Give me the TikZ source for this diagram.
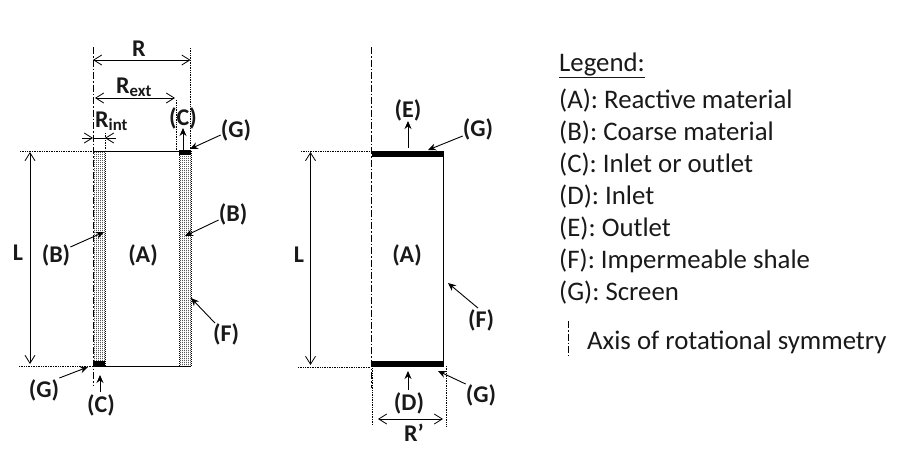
\documentclass[tikz,border=0pt]{standalone}
\usepackage{fontspec}
\setmainfont{Carlito}
\usetikzlibrary{arrows.meta,patterns}
\pgfdeclarepatternformonly{fdots}{\pgfqpoint{-0.5pt}{-0.5pt}}{\pgfqpoint{0.5pt}{0.5pt}}{\pgfqpoint{2pt}{2pt}}{%
  \pgfpathrectangle{\pgfqpoint{0pt}{0pt}}{\pgfqpoint{1.25pt}{1.25pt}}%
  \pgfpathrectangle{\pgfqpoint{1pt}{1pt}}{\pgfqpoint{1.25pt}{1.25pt}}%
  \pgfusepath{fill}}
\tikzset{
  lab/.style={font=\fontsize{24}{26}\selectfont\bfseries,inner sep=0pt,text=black!90},
  leg/.style={font=\fontsize{26.8}{30}\selectfont,inner sep=0pt,anchor=west,text=black!90},
  barb/.style={Straight Barb[length=8pt,width=10pt,angle'=50]},
  dim/.style={line width=0.8pt,{Straight Barb[length=8pt,width=10pt]}-{Straight Barb[length=8pt,width=10pt]}},
  tick/.style={line width=0.8pt,-{Straight Barb[length=8pt,width=10pt]}},
  arr/.style={line width=0.9pt,-{Stealth[length=8pt,width=7pt]}},
  ext/.style={line width=0.7pt,densely dotted},
  axisl/.style={line width=0.7pt,dash pattern=on 7pt off 2pt on 1.5pt off 2pt},
  wall/.style={line width=0.9pt},
  edgeline/.style={line width=0.6pt,dash pattern=on 1pt off 1pt},
  shale/.style={pattern=fdots,pattern color=black},
  screen/.style={fill=black,draw=none},
}
\begin{document}
\begin{tikzpicture}[x=1pt,y=-1pt]
\useasboundingbox (0,0) rectangle (901,453);
% left part
\fill[shale] (93,151) rectangle (105,366);
\fill[shale] (179,151) rectangle (191,366);
\draw[wall] (93,151) -- (191,151);
\draw[wall] (93,366) -- (191,366);
\draw[edgeline] (105,151) -- (105,366);
\draw[edgeline] (179,151) -- (179,366);
\draw[edgeline] (191,151) -- (191,366);
\fill[screen] (179,150) rectangle (191,155);
\fill[screen] (93,361) rectangle (105,367);
\coordinate (aTop) at (93,47); \coordinate (aBot) at (93,386);
\draw[axisl] (aTop) -- (aBot);
\coordinate (Lt) at (20,151); \coordinate (Lb) at (19,366);
\coordinate (Ltc) at (93,151); \coordinate (Lbc) at (93,366);
\draw[ext] (Lt) -- (Ltc); \draw[ext] (Lb) -- (Lbc);
\coordinate (L1a) at (30,152); \coordinate (L1b) at (30,364);
\draw[dim] (L1a) -- (L1b);
\node[lab] (L1) at (18,253) {L};
\coordinate (Rl) at (93,60); \coordinate (Rr) at (190.5,60);
\draw[dim] (Rl) -- (Rr);
\draw[ext] (190,48) -- (190,150);
\node[lab] (R) at (139,49) {R};
\coordinate (Rel) at (95,98); \coordinate (Rer) at (175,98);
\draw[dim] (Rel) -- (Rer);
\draw[ext] (176,100) -- (176,150);
\node[lab,anchor=base west] (Rext) at (116,93) {R\textsubscript{ext}};
\draw[ext] (105,133) -- (105,150);
\coordinate (Ril) at (82,138); \coordinate (Rim) at (93,138);
\coordinate (Rir) at (116,138); \coordinate (Rin) at (105,138);
\draw[tick] (Ril) -- (Rim);
\draw[tick] (Rir) -- (Rin);
\draw[line width=0.8pt] (Rim) -- (Rin);
\node[lab,anchor=base west] (Rint) at (95,127) {R\textsubscript{int}};
\node[lab] (Ctop) at (183,118) {(C)};
\coordinate (Ctip) at (183,128); \coordinate (Cs) at (183,150);
\draw[arr] (Cs) -- (Ctip);
\node[lab] (Gt) at (236,130) {(G)};
\coordinate (Gtip) at (190,149);
\draw[arr] (Gt.west) ++(0,5) -- (Gtip);
\node[lab] (B1) at (56,255) {(B)};
\coordinate (B1t) at (104,232);
\draw[arr] (B1.east) ++(0,-8) -- (B1t);
\node[lab] (A1) at (143,255) {(A)};
\node[lab] (B2) at (233,214) {(B)};
\coordinate (B2t) at (185,236);
\draw[arr] (B2.west) ++(0,6) -- (B2t);
\node[lab] (F1) at (226,334) {(F)};
\coordinate (F1t) at (191,298);
\draw[arr] (F1.north) ++(-11,0) -- (F1t);
\node[lab] (Gb) at (44,390) {(G)};
\coordinate (Gbt) at (88,367);
\draw[arr] (Gb.east) ++(0,-12) -- (Gbt);
\node[lab] (Cb) at (101,405) {(C)};
\coordinate (Cbt) at (100,375);
\draw[arr] (100,392) -- (Cbt);
% right part
\draw[wall] (372,151) -- (443,151) -- (443,366) -- (372,366);
\fill[screen] (372,151) rectangle (444,157);
\fill[screen] (372,361) rectangle (444,367);
\coordinate (bTop) at (371,47); \coordinate (bBot) at (371,388);
\draw[axisl] (bTop) -- (bBot);
\coordinate (Mt) at (301,151.5); \coordinate (Mb) at (298,367);
\coordinate (Mtc) at (371,151.5); \coordinate (Mbc) at (371,367);
\draw[ext] (Mt) -- (Mtc); \draw[ext] (Mb) -- (Mbc);
\coordinate (L2a) at (310.5,152); \coordinate (L2b) at (310.5,365);
\draw[dim] (L2a) -- (L2b);
\node[lab] (L2) at (299,255) {L};
\node[lab] (A2) at (407,255) {(A)};
\node[lab] (E) at (408,110) {(E)};
\coordinate (Et) at (408,121); \coordinate (Es) at (408,148);
\draw[arr] (Es) -- (Et);
\node[lab] (G2) at (478,129) {(G)};
\coordinate (G2t) at (428,150);
\draw[arr] (G2.west) ++(0,7) -- (G2t);
\node[lab] (F2) at (481,320) {(F)};
\coordinate (F2t) at (448,283);
\draw[arr] (F2.north) ++(-3,-1) -- (F2t);
\node[lab] (D) at (409,403) {(D)};
\coordinate (Dt) at (408,371); \coordinate (Ds) at (408,390);
\draw[arr] (Ds) -- (Dt);
\node[lab] (G3) at (481,395) {(G)};
\coordinate (G3t) at (438,371);
\draw[arr] (G3.west) ++(0,-11) -- (G3t);
\coordinate (Pl) at (378,419); \coordinate (Pr) at (443,419);
\draw[dim] (Pl) -- (Pr);
\draw[ext] (372.5,368) -- (372.5,425); \draw[ext] (446,366) -- (446,427);
\node[lab] (Rp) at (414,433) {R’};
% legend
\node[leg] (Lg) at (559,65) {\underline{Legend:}};
\node[leg] (la) at (559,101) {(A): Reactive material};
\node[leg] (lb) at (559,133) {(B): Coarse material};
\node[leg] (lc) at (559,165) {(C): Inlet or outlet};
\node[leg] (ld) at (559,197) {(D): Inlet};
\node[leg] (le) at (559,229) {(E): Outlet};
\node[leg] (lf) at (559,261) {(F): Impermeable shale};
\node[leg] (lg) at (559,293) {(G): Screen};
\node[leg] (lx) at (587,342) {Axis of rotational symmetry};
\coordinate (kt) at (568.5,321); \coordinate (kb) at (568.5,356);
\draw[line width=0.6pt,dash pattern=on 7pt off 2pt on 1.5pt off 2pt] (kt) -- (kb);
\end{tikzpicture}
\end{document}
